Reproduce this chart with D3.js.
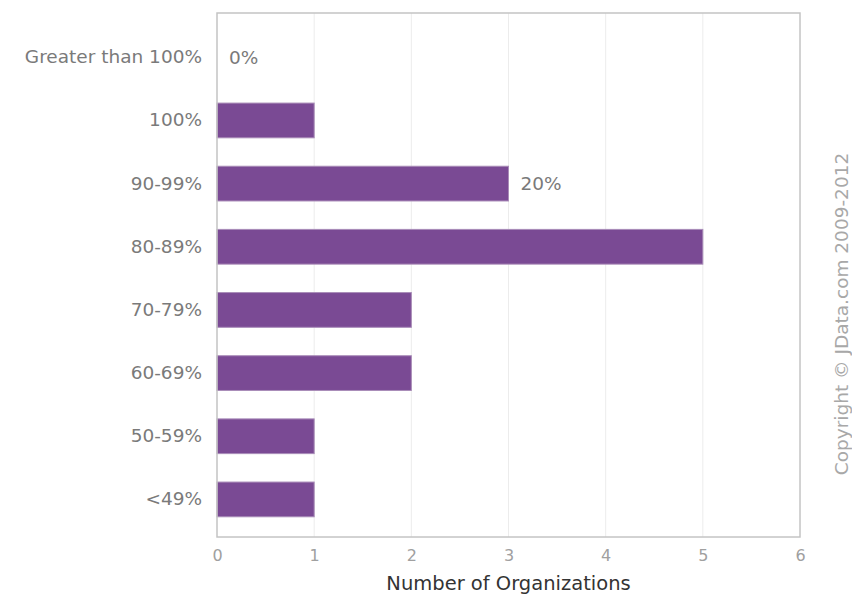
<!DOCTYPE html>
<html>
<head>
<meta charset="utf-8">
<script src="https://cdn.jsdelivr.net/npm/d3@7"></script>
<style>
  html, body { margin: 0; padding: 0; background: #fff; }
  svg { display: block; font-family: "DejaVu Sans", sans-serif; }
</style>
</head>
<body>
<svg id="chart" width="852" height="594"></svg>
<script>
// Distribution of organizations by range
const categories = ["Greater than 100%", "100%", "90-99%", "80-89%", "70-79%", "60-69%", "50-59%", "<49%"];
const counts = [0, 1, 3, 5, 2, 2, 1, 1];
// Ranges that carry a share-of-total label next to their bar
const labelled = ["Greater than 100%", "90-99%"];
const xTicks = [0, 1, 2, 3, 4, 5, 6];
const xTitle = "Number of Organizations";
const copyright = "Copyright \u00a9 JData.com 2009-2012";

const svg = d3.select("#chart");
const frame = { left: 217, right: 800, top: 13, bottom: 537 };

const x = d3.scaleLinear().domain([0, 6]).range([frame.left, frame.right]);
const y = d3.scaleBand().domain(categories).range([25.7, 531]).paddingInner(0.45).paddingOuter(0.225);

const total = d3.sum(counts);
const data = categories.map((c, i) => ({ cat: c, n: counts[i] }));

// vertical grid lines
svg.append("g").selectAll("line").data(xTicks.slice(1, -1)).join("line")
  .attr("x1", d => x(d)).attr("x2", d => x(d))
  .attr("y1", frame.top).attr("y2", frame.bottom)
  .attr("stroke", "#ececec").attr("stroke-width", 1);

// bars
svg.append("g").selectAll("rect").data(data.filter(d => d.n > 0)).join("rect")
  .attr("x", x(0)).attr("y", d => y(d.cat))
  .attr("width", d => x(d.n) - x(0)).attr("height", y.bandwidth())
  .attr("fill", "#7a4a94").attr("stroke", "#a98cb8").attr("stroke-width", 1);

// plot frame
svg.append("rect")
  .attr("x", frame.left).attr("y", frame.top)
  .attr("width", frame.right - frame.left).attr("height", frame.bottom - frame.top)
  .attr("fill", "none").attr("stroke", "#c4c4c4").attr("stroke-width", 1.5);

// category labels
const yAxis = svg.append("g").attr("transform", `translate(${frame.left},0)`)
  .call(d3.axisLeft(y).tickSize(0).tickPadding(15));
yAxis.select(".domain").remove();
yAxis.selectAll("text").attr("fill", "#7a7a7a").attr("font-size", 18.5)
  .attr("font-family", "DejaVu Sans, sans-serif");

// x axis tick labels
const xAxis = svg.append("g").attr("transform", `translate(0,${frame.bottom})`)
  .call(d3.axisBottom(x).tickValues(xTicks).tickFormat(d3.format("d")).tickSize(0).tickPadding(13));
xAxis.select(".domain").remove();
xAxis.selectAll("text").attr("fill", "#a0a0a0").attr("font-size", 16)
  .attr("font-family", "DejaVu Sans, sans-serif");

// share labels
svg.append("g").selectAll("text").data(data.filter(d => labelled.includes(d.cat))).join("text")
  .attr("x", d => x(d.n) + 12).attr("y", d => y(d.cat) + y.bandwidth() / 2)
  .attr("dy", "0.35em").attr("fill", "#7a7a7a").attr("font-size", 18.5)
  .text(d => d3.format(".0%")(d.n / total));

// axis title
svg.append("text").attr("x", (frame.left + frame.right) / 2).attr("y", 590)
  .attr("text-anchor", "middle").attr("fill", "#333").attr("font-size", 19.5)
  .text(xTitle);

// copyright note
svg.append("text").attr("transform", "translate(848,314) rotate(-90)")
  .attr("text-anchor", "middle").attr("fill", "#a8a8a8").attr("font-size", 18.5)
  .text(copyright);
</script>
</body>
</html>
